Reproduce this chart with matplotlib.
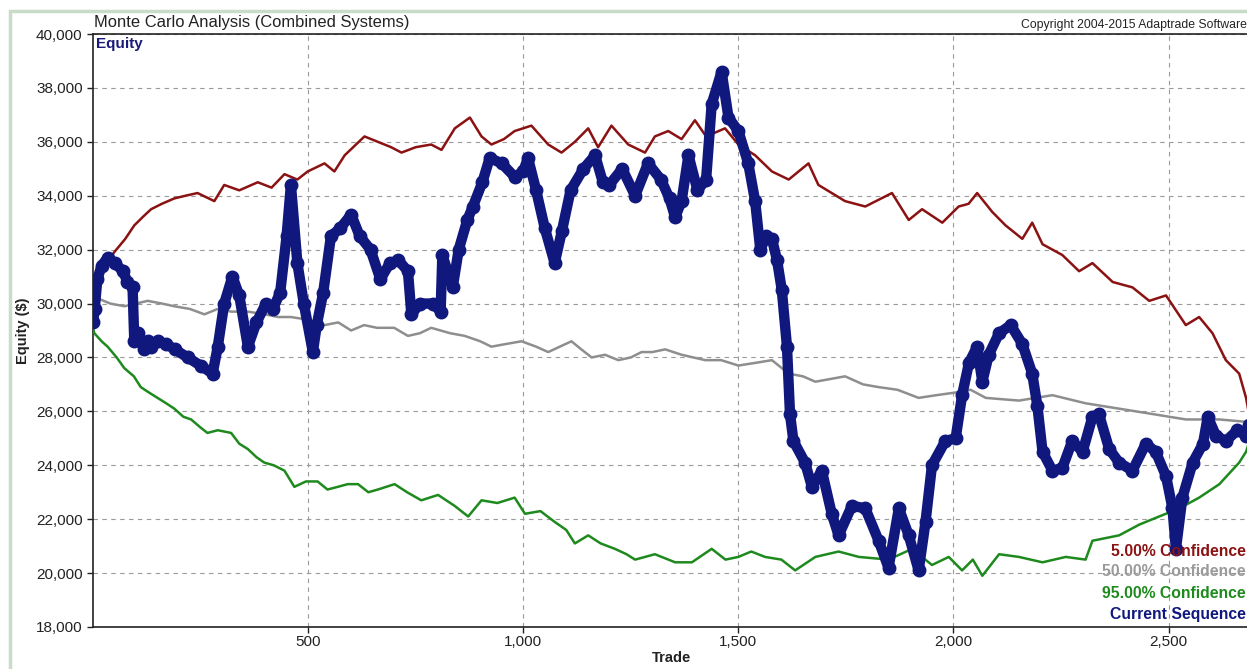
import matplotlib
matplotlib.use("Agg")
import matplotlib.pyplot as plt
from matplotlib.patches import Rectangle

plt.rcParams['font.family'] = ['Liberation Sans', 'DejaVu Sans']

# ---- data ----
seq_trade = [0, 4, 10, 20, 34, 50, 70, 80, 92, 96, 105, 118, 127, 135, 150, 170, 190, 220, 250, 278,
             290, 305, 324, 340, 360, 380, 402, 418, 435, 450, 460, 475, 490, 511, 520, 535, 553,
             575, 600, 620, 645, 668, 690, 710, 732, 740, 760, 790, 808, 812, 836, 850, 870, 883,
             905, 922, 950, 980, 1000, 1011, 1030, 1050, 1073, 1090, 1110, 1140, 1167, 1185, 1200,
             1230, 1260, 1290, 1320, 1340, 1353, 1368, 1384, 1405, 1425, 1438, 1461, 1477, 1500,
             1523, 1539, 1551, 1565, 1578, 1590, 1601, 1613, 1620, 1628, 1655, 1671, 1694, 1717,
             1733, 1764, 1795, 1826, 1849, 1873, 1896, 1919, 1935, 1950, 1981, 2005, 2020, 2036,
             2055, 2067, 2082, 2106, 2133, 2160, 2183, 2195, 2207, 2230, 2253, 2276, 2300, 2323,
             2338, 2362, 2385, 2416, 2447, 2470, 2494, 2509, 2517, 2532, 2556, 2580, 2591, 2610,
             2633, 2660, 2680, 2688]
seq_equity = [29300, 29800, 30900, 31400, 31700, 31500, 31200, 30800, 30600, 28600, 28900, 28300,
              28600, 28400, 28600, 28500, 28300, 28000, 27700, 27400, 28400, 30000, 31000, 30300,
              28400, 29300, 30000, 29800, 30400, 32500, 34400, 31500, 30000, 28200, 29200, 30400,
              32500, 32800, 33300, 32500, 32000, 30900, 31500, 31600, 31200, 29600, 30000, 30000,
              29700, 31800, 30600, 32000, 33100, 33600, 34500, 35400, 35200, 34700, 34900, 35400,
              34200, 32800, 31500, 32700, 34200, 35000, 35500, 34500, 34400, 35000, 34000, 35200,
              34600, 33900, 33200, 33800, 35500, 34200, 34600, 37400, 38600, 36900, 36400, 35200,
              33800, 32000, 32500, 32400, 31600, 30500, 28400, 25900, 24900, 24100, 23200, 23800,
              22200, 21400, 22500, 22400, 21200, 20200, 22400, 21400, 20100, 21900, 24000, 24900,
              25000, 26600, 27800, 28400, 27100, 28100, 28900, 29200, 28500, 27400, 26200, 24500,
              23800, 23900, 24900, 24500, 25800, 25900, 24600, 24100, 23800, 24800, 24500, 23600,
              22400, 20900, 22800, 24100, 24800, 25800, 25100, 24900, 25300, 25100, 25500]

p05_trade = [0, 3, 20, 49, 75, 96, 115, 135, 160, 189, 215, 243, 282, 305, 340, 383, 415, 445,
             475, 499, 538, 561, 585, 631, 693, 717, 750, 786, 810, 841, 876, 903, 926, 955, 980,
             1019, 1058, 1089, 1120, 1151, 1174, 1205, 1244, 1283, 1306, 1337, 1368, 1399, 1425,
             1469, 1500, 1539, 1578, 1617, 1663, 1686, 1748, 1795, 1857, 1896, 1927, 1974, 2012,
             2035, 2055, 2090, 2121, 2160, 2183, 2207, 2253, 2292, 2323, 2370, 2416, 2455, 2494,
             2540, 2571, 2602, 2633, 2664, 2680, 2688]
p05_equity = [30200, 30500, 31200, 31900, 32400, 32900, 33200, 33500, 33700, 33900, 34000, 34100,
              33800, 34400, 34200, 34500, 34300, 34800, 34600, 34900, 35200, 34900, 35500, 36200,
              35800, 35600, 35800, 35900, 35700, 36500, 36900, 36200, 35900, 36100, 36400, 36600,
              35900, 35600, 36000, 36500, 35800, 36600, 35900, 35600, 36200, 36400, 36100, 36800,
              36200, 36500, 35900, 35500, 34900, 34600, 35200, 34400, 33800, 33600, 34100, 33100,
              33500, 33000, 33600, 33700, 34100, 33400, 32900, 32400, 33000, 32200, 31800, 31200,
              31500, 30800, 30600, 30100, 30300, 29200, 29500, 28900, 27900, 27400, 26500, 25800]

p50_trade = [0, 10, 40, 73, 100, 127, 160, 189, 225, 259, 290, 321, 360, 400, 430, 460, 500, 538,
             570, 600, 630, 660, 700, 732, 760, 786, 830, 864, 900, 926, 960, 996, 1030, 1058,
             1085, 1112, 1135, 1159, 1190, 1221, 1250, 1275, 1300, 1330, 1368, 1423, 1460, 1500,
             1540, 1578, 1617, 1650, 1679, 1748, 1790, 1826, 1870, 1919, 1960, 2005, 2040, 2075,
             2152, 2230, 2307, 2385, 2463, 2540, 2618, 2688]
p50_equity = [30100, 30200, 30000, 29900, 30000, 30100, 30000, 29900, 29800, 29600, 29800, 29700,
              29700, 29600, 29500, 29500, 29400, 29200, 29300, 29000, 29200, 29100, 29100, 28800,
              28900, 29100, 28900, 28800, 28600, 28400, 28500, 28600, 28400, 28200, 28400, 28600,
              28300, 28000, 28100, 27900, 28000, 28200, 28200, 28300, 28100, 27900, 27900, 27700,
              27800, 27900, 27400, 27300, 27100, 27300, 27000, 26900, 26800, 26500, 26600, 26700,
              26800, 26500, 26400, 26600, 26300, 26100, 25900, 25700, 25700, 25600]

p95_trade = [0, 3, 20, 34, 55, 73, 95, 111, 130, 150, 170, 189, 210, 228, 250, 266, 290, 321, 340,
             360, 380, 398, 420, 445, 468, 495, 522, 545, 569, 592, 616, 640, 662, 701, 730, 763,
             802, 840, 872, 903, 940, 980, 1004, 1040, 1073, 1100, 1120, 1151, 1180, 1213, 1240,
             1260, 1306, 1353, 1392, 1438, 1470, 1500, 1530, 1562, 1600, 1632, 1679, 1733, 1780,
             1849, 1904, 1950, 1989, 2020, 2045, 2067, 2106, 2152, 2207, 2261, 2307, 2323, 2385,
             2432, 2478, 2525, 2571, 2618, 2664, 2680, 2688]
p95_equity = [29100, 28900, 28600, 28400, 28000, 27600, 27300, 26900, 26700, 26500, 26300, 26100,
              25800, 25700, 25400, 25200, 25300, 25200, 24800, 24600, 24300, 24100, 24000, 23800,
              23200, 23400, 23400, 23100, 23200, 23300, 23300, 23000, 23100, 23300, 23000, 22700,
              22900, 22500, 22100, 22700, 22600, 22800, 22200, 22300, 21900, 21600, 21100, 21400,
              21100, 20900, 20700, 20500, 20700, 20400, 20400, 20900, 20500, 20600, 20800, 20600,
              20500, 20100, 20600, 20800, 20600, 20500, 20900, 20300, 20600, 20100, 20500, 19900,
              20700, 20600, 20400, 20600, 20500, 21200, 21400, 21800, 22100, 22400, 22800, 23300,
              24100, 24500, 24900]

y_ticks = [18000, 20000, 22000, 24000, 26000, 28000, 30000, 32000, 34000, 36000, 38000, 40000]
x_ticks = [500, 1000, 1500, 2000, 2500]
legend_labels = ["5.00% Confidence", "50.00% Confidence", "95.00% Confidence", "Current Sequence"]

# ---- styling ----
c_red = "#8b1212"
c_gray = "#8e8e8e"
c_green = "#1e8a1e"
c_navy = "#10187e"

W, H = 1247, 669
fig = plt.figure(figsize=(W / 100, H / 100), dpi=100)
fig.patch.set_facecolor("white")

# light green frame
fig.patches.append(Rectangle((10 / W, -0.01), 1.05, (H - 11) / H + 0.01, transform=fig.transFigure,
                             fill=False, edgecolor="#c9dcc9", linewidth=2.5, zorder=0))

ax = fig.add_axes([93 / W, (H - 627) / H, 1.0 - 93 / W + 0.002, (627 - 34) / H])
ax.set_facecolor("white")

ax.plot(p05_trade, p05_equity, color=c_red, lw=1.8, zorder=3)
ax.plot(p50_trade, p50_equity, color=c_gray, lw=1.8, zorder=3)
ax.plot(p95_trade, p95_equity, color=c_green, lw=1.8, zorder=3)
ax.plot(seq_trade, seq_equity, color="#888888", lw=1.2, zorder=4)
ax.plot(seq_trade, seq_equity, color=c_navy, lw=7.5, solid_capstyle="round",
        solid_joinstyle="round", marker="o", markersize=9, zorder=5)

ax.set_xlim(0, 2688)
ax.set_ylim(18000, 40000)
ax.set_yticks(y_ticks)
ax.set_yticklabels([f"{v:,}" for v in y_ticks])
ax.set_xticks(x_ticks)
ax.set_xticklabels([f"{v:,}" for v in x_ticks])
ax.grid(True, color="#9a9a9a", linestyle=(0, (4, 4)), linewidth=0.8)
ax.set_axisbelow(True)
ax.tick_params(axis="both", labelsize=11, colors="#222222", length=4, width=1)
ax.tick_params(axis="x", pad=2)
for s in ["left", "bottom", "top"]:
    ax.spines[s].set_color("#222222")
    ax.spines[s].set_linewidth(1.2)
ax.spines["right"].set_visible(False)

ax.set_xlabel("Trade", fontsize=10.5, fontweight="bold", color="#222222", labelpad=1)
ax.set_ylabel("Equity ($)", fontsize=10.5, fontweight="bold", color="#222222", labelpad=4)

ax.text(0.003, 0.995, "Equity", transform=ax.transAxes, ha="left", va="top",
        fontsize=11, fontweight="bold", color="#1a1a7a")

fig.text(94 / W, (H - 30) / H, "Monte Carlo Analysis (Combined Systems)", ha="left", va="bottom",
         fontsize=11.9, color="#222222")
fig.text(1247 / W, (H - 31) / H, "Copyright 2004-2015 Adaptrade Software", ha="right", va="bottom",
         fontsize=8.8, color="#222222")

leg_colors = [c_red, "#9a9a9a", c_green, c_navy]
leg_y = [551, 572, 593, 614]
for lab, col, yy in zip(legend_labels, leg_colors, leg_y):
    fig.text(1246 / W, (H - yy) / H, lab, ha="right", va="center", fontsize=11.3,
             fontweight="bold", color=col, zorder=10)

fig.savefig("out.png", dpi=100, facecolor="white")
